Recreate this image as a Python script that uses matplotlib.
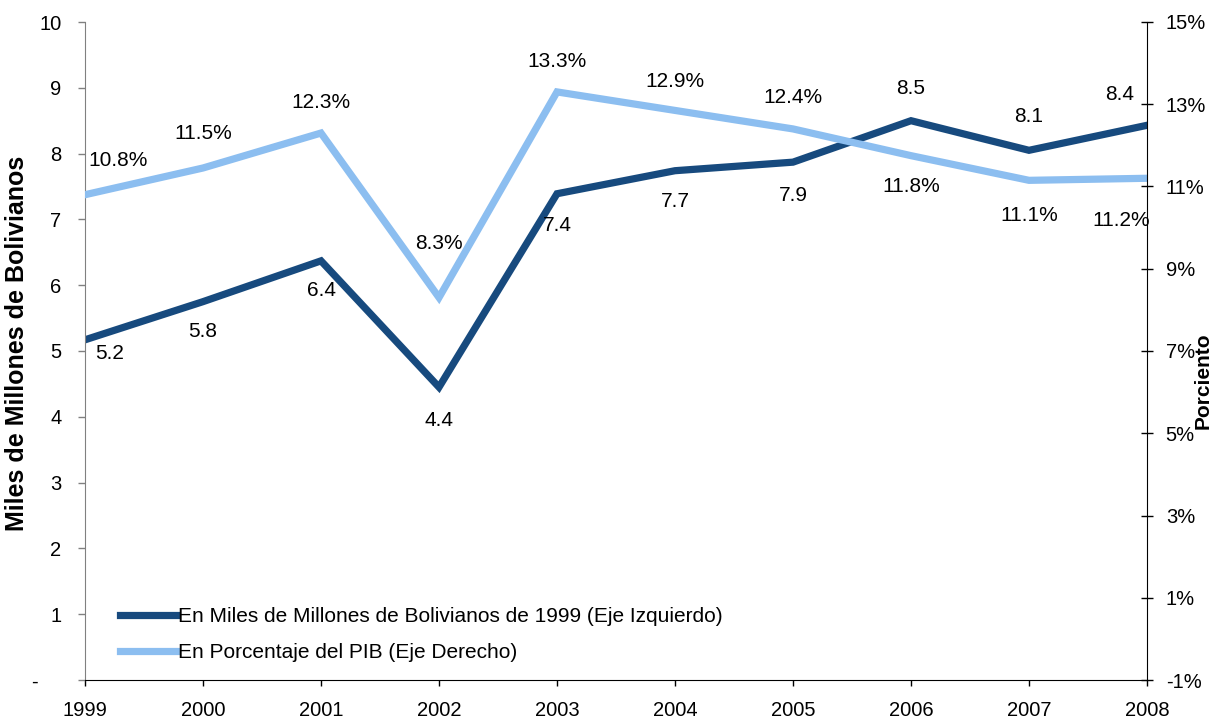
import matplotlib
matplotlib.use("Agg")
import matplotlib.pyplot as plt
from matplotlib.ticker import FuncFormatter

plt.rcParams['font.family'] = ['Liberation Sans', 'DejaVu Sans']

years = [1999, 2000, 2001, 2002, 2003, 2004, 2005, 2006, 2007, 2008]
year_labels = [str(y) for y in years]
# Miles de millones de Bs de 1999 (left axis)
bolivianos = [5.17, 5.75, 6.37, 4.45, 7.39, 7.74, 7.87, 8.50, 8.05, 8.43]
bolivianos_labels = ["5.2", "5.8", "6.4", "4.4", "7.4", "7.7", "7.9", "8.5", "8.1", "8.4"]
# Porcentaje del PIB (right axis)
pib_pct = [10.8, 11.45, 12.3, 8.3, 13.3, 12.85, 12.4, 11.75, 11.15, 11.2]
pib_labels = ["10.8%", "11.5%", "12.3%", "8.3%", "13.3%", "12.9%", "12.4%", "11.8%", "11.1%", "11.2%"]

legend_labels = ["En Miles de Millones de Bolivianos de 1999 (Eje Izquierdo)",
                 "En Porcentaje del PIB (Eje Derecho)"]
left_title = "Miles de Millones de Bolivianos"
right_title = "Porciento"

dark = "#174A7E"
light = "#8CBEF0"
FS = 15
TFS = 14.5

W, H = 1212, 723
fig = plt.figure(figsize=(W / 100, H / 100), dpi=100)
ax = fig.add_axes([85 / W, 43 / H, 1062 / W, 658 / H])
ax2 = ax.twinx()

x = list(range(len(years)))
l1, = ax.plot(x, bolivianos, color=dark, lw=5.2, solid_joinstyle='miter')
l2, = ax2.plot(x, pib_pct, color=light, lw=5.2, solid_joinstyle='miter')

ax.set_xlim(0, len(years) - 1)
ax.set_ylim(0, 10)
ax2.set_ylim(-1, 15)

ax.set_xticks(x)
ax.set_xticklabels(year_labels, fontsize=TFS)
ax.set_yticks(range(0, 11))
ax.yaxis.set_major_formatter(FuncFormatter(lambda v, p: "-    " if v == 0 else "%d" % v))
ax2.set_yticks(range(-1, 16, 2))
ax2.yaxis.set_major_formatter(FuncFormatter(lambda v, p: "%d%%" % v))

ax.tick_params(axis='y', direction='out', length=5, width=1, color='#808080',
               labelsize=TFS, pad=12)
ax.tick_params(axis='x', direction='out', length=4, width=1, color='black',
               labelsize=TFS, pad=11)
ax2.tick_params(axis='y', direction='inout', length=9, width=1, color='black',
                labelsize=TFS, pad=9)

for a in (ax, ax2):
    a.spines['top'].set_visible(False)
ax.spines['left'].set_color('#808080')
ax2.spines['left'].set_visible(False)
ax.spines['right'].set_visible(False)
ax2.spines['right'].set_color('black')
ax.spines['bottom'].set_color('black')
ax2.spines['bottom'].set_visible(False)

# data label offsets in pixels (dx, dy upward)
dark_off = [(25, -14), (0, -30), (0, -30), (0, -33), (0, -32), (0, -31), (0, -33),
            (0, 32), (0, 34), (-27, 31)]
light_off = [(33, 34), (0, 34), (0, 31), (0, 54), (0, 30), (0, 29), (0, 31),
             (0, -31), (0, -35), (-26, -42)]
for i in x:
    ax.annotate(bolivianos_labels[i], (i, bolivianos[i]), xytext=dark_off[i],
                textcoords='offset pixels', ha='center', va='center', fontsize=FS)
    ax2.annotate(pib_labels[i], (i, pib_pct[i]), xytext=light_off[i],
                 textcoords='offset pixels', ha='center', va='center', fontsize=FS)

leg = ax2.legend([l1, l2], legend_labels, loc='upper left',
                 bbox_to_anchor=(35 / 1062, (680 - 607) / 658), frameon=False,
                 fontsize=FS, handlelength=2.7, handletextpad=0.1,
                 labelspacing=0.82, borderaxespad=0, borderpad=0)

fig.text(17 / W, 1 - 343 / H, left_title, rotation=90, ha='center', va='center',
         fontsize=18, fontweight='bold')
fig.text(1203 / W, 1 - 381 / H, right_title, rotation=90, ha='center', va='center',
         fontsize=15, fontweight='bold')

fig.savefig("out.png", dpi=100)
